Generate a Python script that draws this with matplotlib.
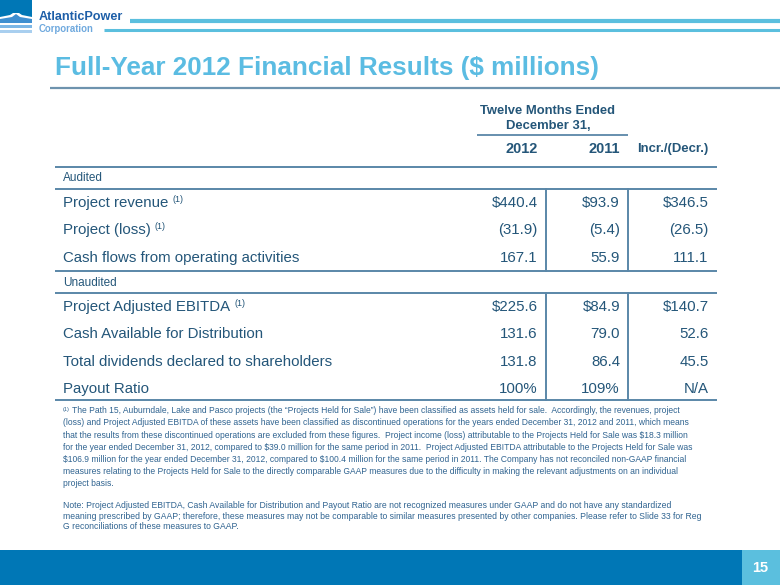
import matplotlib
matplotlib.use("Agg")
import matplotlib.pyplot as plt
from matplotlib.patches import Rectangle, Polygon

plt.rcParams['font.family'] = ['Liberation Sans', 'DejaVu Sans']
plt.rcParams['text.parse_math'] = False

# ---------------- data ----------------
title = "Full-Year 2012 Financial Results ($ millions)"
period_header = ["Twelve Months Ended", "December 31,"]
col_headers = ["2012", "2011", "Incr./(Decr.)"]
sections = ["Audited", "Unaudited"]
row_labels = ["Project revenue", "Project (loss)", "Cash flows from operating activities",
              "Project Adjusted EBITDA", "Cash Available for Distribution",
              "Total dividends declared to shareholders", "Payout Ratio"]
row_section = [0, 0, 0, 1, 1, 1, 1]
row_note = [True, True, False, True, False, False, False]
vals_2012 = ["$440.4", "(31.9)", "167.1", "$225.6", "131.6", "131.8", "100%"]
vals_2011 = ["$93.9", "(5.4)", "55.9", "$84.9", "79.0", "86.4", "109%"]
vals_incr = ["$346.5", "(26.5)", "111.1", "$140.7", "52.6", "45.5", "N/A"]
footnote_lines = [
    "The Path 15, Auburndale, Lake and Pasco projects (the \u201cProjects Held for Sale\u201d) have been classified as assets held for sale.  Accordingly, the revenues, project",
    "(loss) and Project Adjusted EBITDA of these assets have been classified as discontinued operations for the years ended December 31, 2012 and 2011, which means",
    "that the results from these discontinued operations are excluded from these figures.  Project income (loss) attributable to the Projects Held for Sale was $18.3 million",
    "for the year ended December 31, 2012, compared to $39.0 million for the same period in 2011.  Project Adjusted EBITDA attributable to the Projects Held for Sale was",
    "$106.9 million for the year ended December 31, 2012, compared to $100.4 million for the same period in 2011. The Company has not reconciled non-GAAP financial",
    "measures relating to the Projects Held for Sale to the directly comparable GAAP measures due to the difficulty in making the relevant adjustments on an individual",
    "project basis.",
]
note_lines = [
    "Note: Project Adjusted EBITDA, Cash Available for Distribution and Payout Ratio are not recognized measures under GAAP and do not have any standardized",
    "meaning prescribed by GAAP; therefore, these measures may not be comparable to similar measures presented by other companies. Please refer to Slide 33 for Reg",
    "G reconciliations of these measures to GAAP.",
]
page_number = "15"
logo_name = ["AtlanticPower", "Corporation"]

# ---------------- style ----------------
DARK = "#0077B6"
LIGHT = "#5BBFDE"
TITLE_C = "#5BBCE2"
TXT = "#245679"
LINE_C = "#5A87A8"
FOOT = "#2F6390"

W, H = 780, 585
fig = plt.figure(figsize=(7.8, 5.85), dpi=100)
ax = fig.add_axes([0, 0, 1, 1])
ax.set_xlim(0, W)
ax.set_ylim(H, 0)
ax.axis('off')
renderer = fig.canvas.get_renderer()


def width_of(t):
    return t.get_window_extent(renderer).width


def fit_size(text, target, weight='normal', trial=10):
    t = ax.text(0, 0, text, fontsize=trial, fontweight=weight)
    w = width_of(t)
    t.remove()
    return trial * target / w


# ---------------- logo / header ----------------
ax.add_patch(Rectangle((0, 0), 32, 13, color=DARK, lw=0))
ax.add_patch(Polygon([(0, 13), (32, 13), (32, 17), (22, 15), (16, 11), (10, 15), (0, 17)], color=DARK, lw=0))
ax.add_patch(Polygon([(0, 19), (12, 17), (16, 14), (20, 17), (32, 19), (32, 23), (0, 23)], color="#3F8FD0", lw=0))
ax.add_patch(Rectangle((0, 25), 32, 3, color="#7DB7E6", lw=0))
ax.add_patch(Rectangle((0, 30), 32, 2.5, color="#A9CFEF", lw=0))
s = fit_size(logo_name[0], 84, 'bold')
ax.text(39, 17, logo_name[0], fontsize=s, fontweight='bold', color="#1E5FA8", va='center', ha='left')
s = fit_size(logo_name[1], 55, 'bold')
ax.text(39, 28.5, logo_name[1], fontsize=s, fontweight='bold', color="#6FA9DE", va='center', ha='left')
ax.plot([130, W], [21.3, 21.3], color=LIGHT, lw=3.0, solid_capstyle='butt')
ax.plot([104, W], [30, 30], color=LIGHT, lw=2.2, solid_capstyle='butt')

# title
s = fit_size(title, 543, 'bold')
ax.text(55, 68, title, fontsize=s, fontweight='bold', color=TITLE_C, va='center', ha='left')
ax.plot([50, W], [87.7, 87.7], color="#6E93AE", lw=1.6, solid_capstyle='butt')

# ---------------- table ----------------
x_left, x_right = 55, 716.5
x_label = 63
x_cols = [537.7, 620, 708.5]
x_vlines = [546, 628]

# period header
hs = fit_size(period_header[0], 136, 'bold')
ax.text(548, 111, period_header[0], fontsize=hs, fontweight='bold', color=TXT, ha='center', va='center')
ax.text(548, 126, period_header[1], fontsize=hs, fontweight='bold', color=TXT, ha='center', va='center')
ax.plot([477, 628], [135, 135], color=LINE_C, lw=1.3, solid_capstyle='butt')

cs = fit_size(col_headers[0], 32, 'bold')
for x, h in zip(x_cols, col_headers):
    ax.text(x, 149, h, fontsize=cs if h != col_headers[2] else fit_size(h, 72, 'bold'),
            fontweight='bold', color=TXT, ha='right', va='center')

rs = fit_size(row_labels[2], 237)
ss = fit_size(sections[0], 40)
sup = rs * 0.6

sec_y = [178, 282.7]
sec_top = [167, 270.5]
sec_line = [189, 293]
row_y0 = [203, 307]
step = 27.3
sec_bottom = [270.5, 400]

for si, name in enumerate(sections):
    ax.plot([x_left, x_right], [sec_top[si], sec_top[si]], color=LINE_C, lw=1.4, solid_capstyle='butt')
    ax.text(x_label, sec_y[si], name, fontsize=ss, color=TXT, ha='left', va='center')
    ax.plot([x_left, x_right], [sec_line[si], sec_line[si]], color=LINE_C, lw=1.4, solid_capstyle='butt')
    for xv in x_vlines:
        ax.plot([xv, xv], [sec_line[si], sec_bottom[si]], color=LINE_C, lw=1.4)

ax.plot([x_left, x_right], [400, 400], color=LINE_C, lw=1.4, solid_capstyle='butt')

counters = [0, 0]
for i, lab in enumerate(row_labels):
    si = row_section[i]
    y = row_y0[si] + step * counters[si]
    counters[si] += 1
    t = ax.text(x_label, y, lab, fontsize=rs, color=TXT, ha='left', va='center')
    if row_note[i]:
        w = width_of(t)
        ax.text(x_label + w + 4, y - 4, "(1)", fontsize=sup, color=TXT, ha='left', va='center')
    for x, vals in zip(x_cols, [vals_2012, vals_2011, vals_incr]):
        ax.text(x, y, vals[i], fontsize=rs, color=TXT, ha='right', va='center')

# ---------------- footnotes ----------------
fs = fit_size(footnote_lines[1], 625)
fy0, fstep = 410.7, 12.2
ax.text(63, fy0 - 1.5, "(1)", fontsize=fs * 0.65, color=FOOT, ha='left', va='center')
for i, line in enumerate(footnote_lines):
    x = 72 if i == 0 else 63
    ax.text(x, fy0 + fstep * i, line, fontsize=fs, color=FOOT, ha='left', va='center')

ns = fit_size(note_lines[1], 640)
ny0, nstep = 506, 10.4
for i, line in enumerate(note_lines):
    ax.text(63, ny0 + nstep * i, line, fontsize=ns, color=FOOT, ha='left', va='center')

# ---------------- footer bar ----------------
ax.add_patch(Rectangle((0, 550), 742, 35, color=DARK, lw=0))
ax.add_patch(Rectangle((742, 550), 38, 35, color=LIGHT, lw=0))
ax.text(760, 567.5, page_number, fontsize=10.5, fontweight='bold', color='white', ha='center', va='center')

fig.savefig("out.png", dpi=100)
